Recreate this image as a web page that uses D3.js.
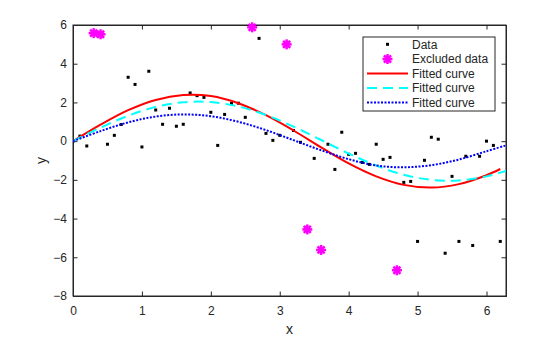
<!DOCTYPE html>
<html>
<head>
<meta charset="utf-8">
<script src="https://cdn.jsdelivr.net/npm/d3@7"></script>
<style>
  html, body { margin: 0; padding: 0; background: #fff; }
  svg { display: block; }
  text { font-family: "Liberation Sans", Arial, Helvetica, sans-serif; fill: #262626; }
</style>
</head>
<body>
<svg id="chart" width="560" height="337"></svg>
<script>
// ---- data ----
const dataX = [0.0,0.1,0.2,0.5,0.6,0.7,0.8,0.9,1.0,1.1,1.2,1.3,1.4,1.5,1.6,1.7,1.8,1.9,2.0,2.1,2.2,2.3,2.4,2.5,2.7,2.8,2.9,3.0,3.2,3.3,3.5,3.7,3.8,3.9,4.0,4.1,4.2,4.3,4.4,4.5,4.6,4.8,4.9,5.0,5.1,5.2,5.3,5.4,5.5,5.6,5.7,5.8,5.9,6.0,6.1,6.2];
const dataY = [0.0,0.26,-0.25,-0.16,0.30,0.86,3.30,2.93,-0.30,3.61,1.61,0.87,1.70,0.77,0.87,2.49,2.35,2.26,1.49,-0.22,1.38,1.95,1.96,1.23,5.31,0.40,0.04,0.30,0.55,-0.06,-0.89,-0.16,-1.46,0.46,-0.68,-0.63,-1.10,-1.20,-0.16,-0.94,-0.84,-2.13,-2.08,-5.18,-0.99,0.20,0.10,-5.79,-1.82,-5.18,-0.78,-5.39,-0.78,0.0,-0.22,-5.18];

const exclX = [0.3,0.4,2.6,3.1,3.4,3.6,4.7];
const exclY = [5.58,5.52,5.88,5.00,-4.56,-5.62,-6.67];

// fitted curves
const fit1X = [0,0.4,0.8,1.2,1.6,2.0,2.4,2.8,3.2,3.6,4.0,4.4,4.8,5.2,5.6,6.0,6.2];
const fit1Y = [0,0.85,1.60,2.13,2.38,2.33,1.96,1.34,0.55,-0.32,-1.15,-1.82,-2.26,-2.40,-2.22,-1.76,-1.44];

const fit2X = [0,0.4,0.8,1.2,1.6,2.0,2.4,2.8,3.2,3.6,4.0,4.4,4.8,5.2,5.6,6.0,6.2832];
const fit2Y = [0,0.70,1.31,1.77,2.01,2.02,1.79,1.35,0.75,0.06,-0.64,-1.26,-1.74,-2.00,-2.03,-1.82,-1.54];

const fit3X = [0,0.4,0.8,1.2,1.6,2.0,2.4,2.8,3.2,3.6,4.0,4.4,4.8,5.2,5.6,6.0,6.2832];
const fit3Y = [0,0.52,0.97,1.27,1.38,1.29,1.00,0.57,0.05,-0.47,-0.93,-1.26,-1.35,-1.24,-0.95,-0.52,-0.22];

const xTicks = [0,1,2,3,4,5,6];
const yTicks = [-8,-6,-4,-2,0,2,4,6];
const legendLabels = ["Data","Excluded data","Fitted curve","Fitted curve","Fitted curve"];

// ---- layout ----
const L = 73, R = 506, T = 25, B = 296;
const svg = d3.select("#chart");
const x = d3.scaleLinear().domain([0, 2*Math.PI]).range([L, R]);
const y = d3.scaleLinear().domain([-8, 6]).range([B, T]);
const axisColor = "#262626";
const tickLen = 4.5;

svg.append("defs").append("clipPath").attr("id","clip")
  .append("rect").attr("x", L).attr("y", T).attr("width", R-L).attr("height", B-T);

const fontSize = "12px";
const gB = svg.append("g").attr("transform", `translate(0,${B})`)
  .call(d3.axisBottom(x).tickValues(xTicks).tickFormat(d3.format("d")).tickSize(-tickLen).tickPadding(8));
const gT = svg.append("g").attr("transform", `translate(0,${T})`)
  .call(d3.axisTop(x).tickValues(xTicks).tickFormat("").tickSize(-tickLen));
const gL = svg.append("g").attr("transform", `translate(${L},0)`)
  .call(d3.axisLeft(y).tickValues(yTicks).tickFormat(d3.format("d")).tickSize(-tickLen).tickPadding(7));
const gR = svg.append("g").attr("transform", `translate(${R},0)`)
  .call(d3.axisRight(y).tickValues(yTicks).tickFormat("").tickSize(-tickLen));
[gB,gT,gL,gR].forEach(g => {
  g.select(".domain").attr("stroke", axisColor).attr("stroke-width", 1);
  g.selectAll(".tick line").attr("stroke", axisColor).attr("stroke-width", 1);
  g.selectAll(".tick text").attr("fill", axisColor).style("font-size", fontSize)
    .style("font-family", '"Liberation Sans", Arial, sans-serif');
});
gB.selectAll(".tick text").attr("dy", "0.71em").attr("y", 10);
gL.selectAll(".tick text").attr("x", -6);
svg.append("rect").attr("x", L).attr("y", T).attr("width", R-L).attr("height", B-T)
  .attr("fill","none").attr("stroke", axisColor).attr("stroke-width", 1);

svg.append("text").attr("x", (L+R)/2).attr("y", 334).attr("text-anchor","middle")
  .style("font-size","14px").text("x");
svg.append("text").attr("transform", `translate(46,${(T+B)/2}) rotate(-90)`)
  .attr("text-anchor","middle").style("font-size","14px").text("y");

const plot = svg.append("g").attr("clip-path","url(#clip)");

const line = d3.line().x(d => x(d[0])).y(d => y(d[1])).curve(d3.curveCatmullRom.alpha(0.5));
const fits = [
  {xs: fit1X, ys: fit1Y, color: "#ff0000", dash: null},
  {xs: fit2X, ys: fit2Y, color: "#00ffff", dash: "10,6"},
  {xs: fit3X, ys: fit3Y, color: "#0000ff", dash: "2,1.5"}
];

plot.selectAll("rect.pt").data(dataX.map((v,i)=>[v,dataY[i]])).enter().append("rect")
  .attr("class","pt").attr("x", d=>x(d[0])-1.5).attr("y", d=>y(d[1])-1.5)
  .attr("width",3).attr("height",3).attr("fill","#000");

fits.forEach(f => {
  plot.append("path").datum(f.xs.map((v,i)=>[v,f.ys[i]]))
    .attr("d", line).attr("fill","none").attr("stroke", f.color).attr("stroke-width", 2)
    .attr("stroke-dasharray", f.dash);
});

function asterisk(g, cx, cy, r) {
  const s = g.append("g").attr("transform", `translate(${cx},${cy})`);
  s.append("circle").attr("r", r*0.6).attr("fill","#ff00ff");
  [0,45,90,135].forEach(a => {
    const rad = a*Math.PI/180;
    s.append("line").attr("x1", -r*Math.cos(rad)).attr("y1", -r*Math.sin(rad))
      .attr("x2", r*Math.cos(rad)).attr("y2", r*Math.sin(rad))
      .attr("stroke","#ff00ff").attr("stroke-width", 2.5);
  });
}
const exclG = svg.append("g");
exclX.forEach((v,i) => asterisk(exclG, x(v), y(exclY[i]), 5));

const lg = svg.append("g");
const lx0 = 363, ly0 = 37, lw = 132, lh = 74;
lg.append("rect").attr("x", lx0).attr("y", ly0).attr("width", lw).attr("height", lh)
  .attr("fill","#fff").attr("stroke", axisColor).attr("stroke-width", 1);
const rowY = [44.3, 59, 73.5, 88, 102.5];
const sx1 = 367, sx2 = 408, tx = 412;
legendLabels.forEach((lab,i) => {
  lg.append("text").attr("x", tx).attr("y", rowY[i]).attr("dy","0.35em")
    .style("font-size", fontSize).attr("fill","#000").text(lab);
});
lg.append("rect").attr("x", (sx1+sx2)/2-1.5).attr("y", rowY[0]-1.5).attr("width",3).attr("height",3).attr("fill","#000");
asterisk(lg, (sx1+sx2)/2, rowY[1], 5);
fits.forEach((f,i) => {
  lg.append("line").attr("x1", sx1).attr("x2", sx2).attr("y1", rowY[i+2]).attr("y2", rowY[i+2])
    .attr("stroke", f.color).attr("stroke-width", 2).attr("stroke-dasharray", f.dash);
});
</script>
</body>
</html>
